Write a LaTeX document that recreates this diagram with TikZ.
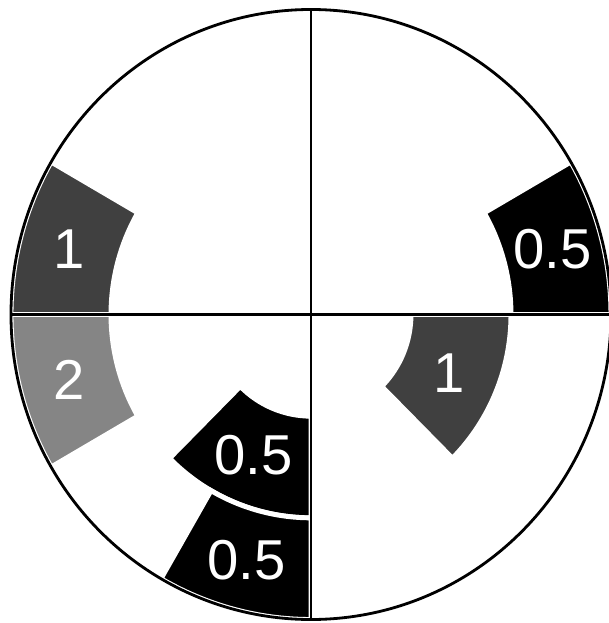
\documentclass[tikz,border=0pt]{standalone}
\usepackage{fontspec}
\setmainfont{Liberation Sans}
\usepackage{tikz}

\begin{document}
\begin{tikzpicture}[x=1cm, y=1.0167cm,
    sector/.style={draw=white, line width=1.4pt},
    val/.style={text=white, font=\fontsize{16}{16}\selectfont, inner sep=0pt},
    axis/.style={line width=0.8pt},
    ]
\useasboundingbox (-3.11cm,-3.085cm) rectangle (2.97cm,3.145cm);

% Sectors: start/end angle, inner/outer radius, colour, label, name
\foreach \a/\b/\ri/\ro/\col/\txt/\nm in {
    150/180/2/3/black!75/1/tl,
    180/210/2/3/black!48/2/ml,
    0/30/2/3/black/0.5/tr,
    -45/0/1/2/black!75/1/br,
    225/270/1/2/black/0.5/bi,
    240/270/2/3/black/0.5/bo}
{
    \fill[fill=\col, sector] (\a:\ro) arc[start angle=\a, end angle=\b, radius=\ro]
        -- (\b:\ri) arc[start angle=\b, end angle=\a, radius=\ri] -- cycle;
    \node[val] (\nm) at ({(\a+\b)/2}:{(\ri+\ro)/2}) {\txt};
}

% Circle and axes
\coordinate (O) at (0,0);
\coordinate (N) at (90:3);
\coordinate (S) at (270:3);
\coordinate (W) at (180:3);
\coordinate (E) at (0:3);
\draw[axis] (O) circle[radius=3];
\draw[axis] (N) -- (S);
\draw[axis] (W) -- (E);

\end{tikzpicture}
\end{document}
